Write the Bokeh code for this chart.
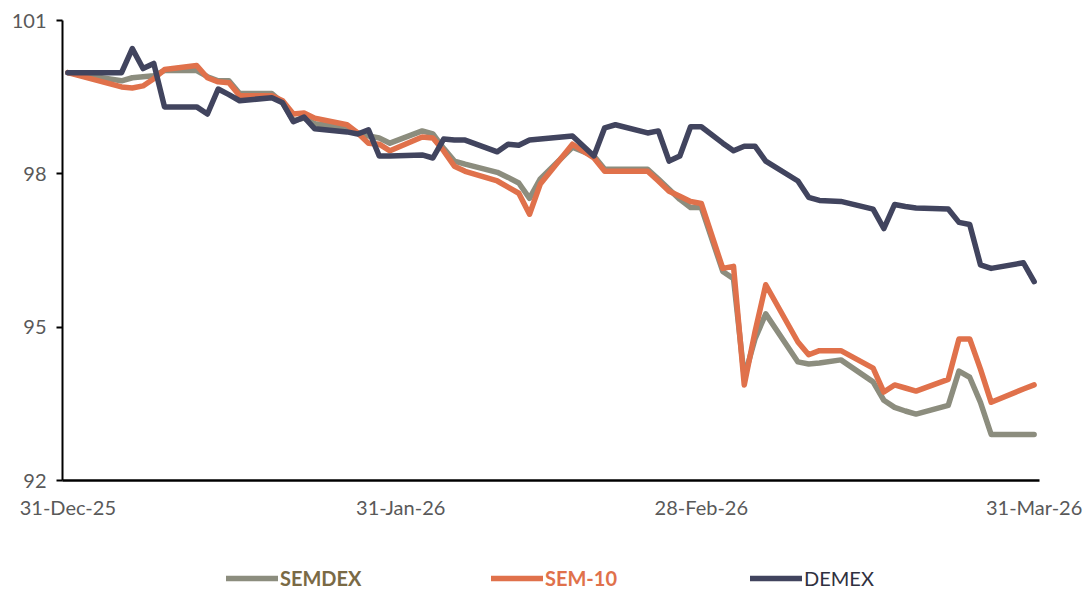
import pandas as pd
from bokeh.plotting import figure
from bokeh.layouts import column
from bokeh.models import Range1d, FixedTicker, Legend, LegendItem
from bokeh.embed import file_html
from bokeh.resources import INLINE

# ---------------- data ----------------
dates = [
    "2025-12-31",
    "2026-01-05", "2026-01-06", "2026-01-07", "2026-01-08", "2026-01-09",
    "2026-01-12", "2026-01-13", "2026-01-14", "2026-01-15", "2026-01-16",
    "2026-01-19", "2026-01-20", "2026-01-21", "2026-01-22", "2026-01-23",
    "2026-01-26", "2026-01-27", "2026-01-28", "2026-01-29", "2026-01-30",
    "2026-02-02", "2026-02-03", "2026-02-04", "2026-02-05", "2026-02-06",
    "2026-02-09", "2026-02-10", "2026-02-11", "2026-02-12", "2026-02-13",
    "2026-02-16", "2026-02-18", "2026-02-19", "2026-02-20",
    "2026-02-23", "2026-02-24", "2026-02-25", "2026-02-26", "2026-02-27", "2026-02-28",
    "2026-03-02", "2026-03-03", "2026-03-04", "2026-03-05", "2026-03-06",
    "2026-03-09", "2026-03-10", "2026-03-11", "2026-03-13",
    "2026-03-16", "2026-03-17", "2026-03-18", "2026-03-19", "2026-03-20",
    "2026-03-23", "2026-03-24", "2026-03-25", "2026-03-26", "2026-03-27",
    "2026-03-30", "2026-03-31",
]

semdex = [
    99.98,
    99.82, 99.88, 99.90, 99.92, 100.02,
    100.02, 99.90, 99.82, 99.82, 99.57,
    99.57, 99.39, 99.04, 99.09, 98.98,
    98.90, 98.80, 98.74, 98.70, 98.60,
    98.84, 98.78, 98.50, 98.25, 98.19,
    98.03, 97.93, 97.82, 97.52, 97.90,
    98.52, 98.35, 98.09, 98.09,
    98.09, 97.90, 97.70, 97.50, 97.34, 97.34,
    96.09, 95.95, 94.02, 94.77, 95.26,
    94.32, 94.28, 94.30, 94.36,
    93.93, 93.57, 93.43, 93.36, 93.30,
    93.47, 94.14, 94.02, 93.53, 92.90,
    92.90, 92.90,
]

sem10 = [
    99.98,
    99.70, 99.68, 99.72, 99.86, 100.04,
    100.12, 99.88, 99.80, 99.78, 99.53,
    99.53, 99.43, 99.17, 99.19, 99.09,
    98.96, 98.80, 98.60, 98.58, 98.45,
    98.72, 98.70, 98.45, 98.15, 98.05,
    97.86, 97.74, 97.62, 97.21, 97.80,
    98.58, 98.31, 98.05, 98.05,
    98.05, 97.86, 97.66, 97.56, 97.46, 97.42,
    96.15, 96.19, 93.87, 94.91, 95.83,
    94.71, 94.46, 94.54, 94.54,
    94.20, 93.73, 93.87, 93.81, 93.75,
    93.98, 94.77, 94.77, 94.18, 93.53,
    93.79, 93.87,
]

demex = [
    99.98,
    99.98, 100.45, 100.06, 100.16, 99.31,
    99.31, 99.17, 99.66, 99.55, 99.43,
    99.49, 99.39, 99.02, 99.11, 98.88,
    98.82, 98.78, 98.86, 98.35, 98.35,
    98.37, 98.31, 98.68, 98.66, 98.66,
    98.43, 98.58, 98.56, 98.66, 98.68,
    98.74, 98.35, 98.90, 98.96,
    98.80, 98.84, 98.25, 98.35, 98.92, 98.92,
    98.60, 98.45, 98.54, 98.54, 98.25,
    97.86, 97.54, 97.48, 97.46,
    97.31, 96.93, 97.40, 97.36, 97.33,
    97.31, 97.05, 97.01, 96.22, 96.15,
    96.26, 95.89,
]

series_names = ["SEMDEX", "SEM-10", "DEMEX"]
tick_dates = ["2025-12-31", "2026-01-31", "2026-02-28", "2026-03-31"]
tick_labels = ["31-Dec-25", "31-Jan-26", "28-Feb-26", "31-Mar-26"]
y_ticks = [92, 95, 98, 101]

# ---------------- styles ----------------
line_colors = ["#8C8D7E", "#E0714B", "#41445E"]
legend_text_colors = ["#7A6A45", "#E0714B", "#2F3040"]
legend_font_styles = ["bold", "bold", "normal"]
# offsets from the (column-aligned) frame left edge at x=62
legend_x = [164, 429, 688]
FONT = "Lato"
LW = 5.5

origin = pd.Timestamp(dates[0])
days = [(pd.Timestamp(d) - origin).days for d in dates]
tick_days = [(pd.Timestamp(d) - origin).days for d in tick_dates]

p = figure(
    width=1086, height=530,
    frame_width=977, frame_height=460,
    min_border_left=62, min_border_right=47,
    min_border_top=20, min_border_bottom=50,
    x_range=Range1d(tick_days[0] - 0.5, tick_days[-1] + 0.5),
    y_range=Range1d(y_ticks[0], y_ticks[-1]),
    output_backend="svg", toolbar_location=None,
)
p.outline_line_color = None
p.xgrid.visible = False
p.ygrid.visible = False

# y axis
yax = p.yaxis[0]
yax.ticker = FixedTicker(ticks=y_ticks, minor_ticks=[])
yax.axis_line_color = "black"
yax.axis_line_width = 2
yax.major_tick_line_color = "black"
yax.major_tick_line_width = 2
yax.major_tick_out = 6
yax.major_tick_in = 0
yax.minor_tick_out = 0
yax.minor_tick_in = 0
yax.major_label_standoff = 10
yax.major_label_text_font = FONT
yax.major_label_text_font_size = "20px"
yax.major_label_text_color = "#595959"

# x axis
xax = p.xaxis[0]
xax.ticker = FixedTicker(ticks=tick_days, minor_ticks=[])
xax.major_label_overrides = {d: lab for d, lab in zip(tick_days, tick_labels)}
xax.axis_line_color = "black"
xax.axis_line_width = 2.5
xax.major_tick_out = 0
xax.major_tick_in = 0
xax.minor_tick_out = 0
xax.minor_tick_in = 0
xax.major_label_standoff = 14
xax.major_label_text_font = FONT
xax.major_label_text_font_size = "20px"
xax.major_label_text_color = "#595959"

for vals, col in zip([semdex, sem10, demex], line_colors):
    p.line(days, vals, line_color=col, line_width=LW,
           line_cap="round", line_join="round")

# ---------------- legend strip ----------------
lf = figure(
    width=1086, height=60, min_border=0,
    x_range=Range1d(0, 1), y_range=Range1d(0, 1),
    x_axis_location=None, y_axis_location=None,
    output_backend="svg", toolbar_location=None,
)
lf.xgrid.visible = False
lf.ygrid.visible = False
lf.outline_line_color = None

for name, lcol, tcol, style, lx in zip(series_names, line_colors, legend_text_colors,
                                       legend_font_styles, legend_x):
    # swatch-only renderer: its points lie outside the strip's range
    r = lf.line(x=[-5, -4], y=[-5, -4], line_color=lcol, line_width=LW, line_cap="round")
    lg = Legend(
        items=[LegendItem(label=name, renderers=[r])],
        location=(lx, 0),
        orientation="horizontal",
        glyph_width=52, glyph_height=20, label_height=20, label_width=20,
        label_standoff=2, padding=0, margin=0, spacing=0,
        border_line_color=None, background_fill_alpha=0,
        label_text_font=FONT, label_text_font_size="20px",
        label_text_font_style=style, label_text_color=tcol,
        label_text_baseline="middle",
    )
    lf.add_layout(lg)

layout = column(p, lf, spacing=0)
open("out.html", "w").write(file_html(layout, INLINE))
